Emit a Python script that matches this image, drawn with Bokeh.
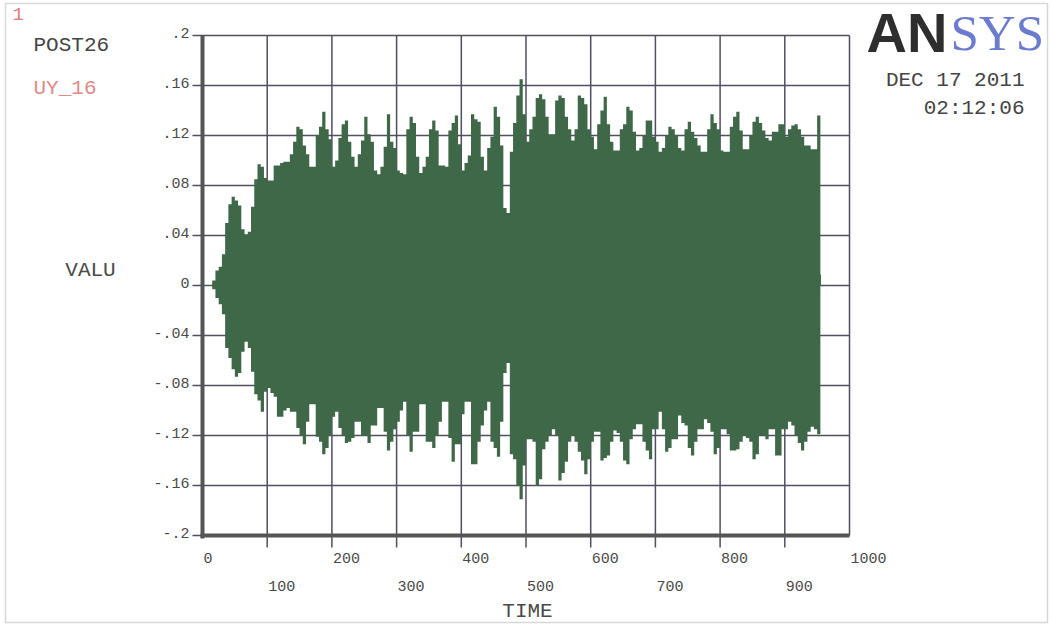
from bokeh.plotting import figure
from bokeh.models import Label, BoxAnnotation
from bokeh.embed import file_html
from bokeh.resources import INLINE

# ---- data ----
time = list(range(0, 955, 5))  # left edges of 5-unit time bins
upper = [
    0.0, 0.0, 0.0, 0.004, 0.012, 0.015, 0.025, 0.050, 0.065, 0.071,
    0.068, 0.064, 0.045, 0.041, 0.043, 0.063, 0.085, 0.097, 0.095, 0.086,
    0.084, 0.084, 0.096, 0.096, 0.098, 0.099, 0.099, 0.105, 0.115, 0.127,
    0.125, 0.112, 0.105, 0.095, 0.095, 0.120, 0.127, 0.139, 0.125, 0.117,
    0.095, 0.100, 0.118, 0.129, 0.132, 0.115, 0.103, 0.095, 0.105, 0.116,
    0.135, 0.121, 0.115, 0.092, 0.089, 0.095, 0.111, 0.137, 0.115, 0.110,
    0.092, 0.090, 0.089, 0.125, 0.135, 0.130, 0.103, 0.090, 0.095, 0.103,
    0.125, 0.132, 0.124, 0.096, 0.096, 0.095, 0.124, 0.130, 0.136, 0.113,
    0.092, 0.098, 0.104, 0.137, 0.133, 0.131, 0.103, 0.092, 0.110, 0.119,
    0.143, 0.135, 0.112, 0.062, 0.058, 0.107, 0.130, 0.152, 0.165, 0.137,
    0.115, 0.125, 0.135, 0.150, 0.153, 0.149, 0.135, 0.121, 0.121, 0.148,
    0.152, 0.150, 0.135, 0.125, 0.116, 0.125, 0.152, 0.150, 0.145, 0.125,
    0.119, 0.109, 0.129, 0.140, 0.151, 0.129, 0.115, 0.108, 0.108, 0.125,
    0.129, 0.143, 0.140, 0.123, 0.108, 0.110, 0.120, 0.132, 0.132, 0.119,
    0.115, 0.107, 0.110, 0.120, 0.127, 0.125, 0.120, 0.110, 0.108, 0.125,
    0.131, 0.123, 0.118, 0.112, 0.107, 0.107, 0.125, 0.137, 0.130, 0.125,
    0.108, 0.107, 0.107, 0.127, 0.135, 0.139, 0.124, 0.109, 0.109, 0.120,
    0.131, 0.135, 0.130, 0.124, 0.118, 0.116, 0.123, 0.123, 0.129, 0.129,
    0.119, 0.125, 0.128, 0.129, 0.125, 0.119, 0.112, 0.112, 0.109, 0.109,
    0.136,
]
lower = [
    0.0, 0.0, 0.0, -0.003, -0.010, -0.015, -0.023, -0.050, -0.058, -0.067,
    -0.073, -0.070, -0.053, -0.045, -0.050, -0.069, -0.087, -0.092, -0.101, -0.085,
    -0.082, -0.086, -0.089, -0.105, -0.105, -0.100, -0.098, -0.101, -0.101, -0.114,
    -0.120, -0.127, -0.109, -0.095, -0.095, -0.121, -0.125, -0.135, -0.130, -0.120,
    -0.105, -0.101, -0.114, -0.120, -0.126, -0.125, -0.122, -0.109, -0.109, -0.120,
    -0.120, -0.126, -0.112, -0.112, -0.098, -0.098, -0.117, -0.132, -0.125, -0.115,
    -0.109, -0.100, -0.093, -0.120, -0.133, -0.117, -0.117, -0.095, -0.095, -0.125,
    -0.125, -0.130, -0.120, -0.109, -0.093, -0.093, -0.122, -0.141, -0.127, -0.127,
    -0.103, -0.093, -0.093, -0.143, -0.143, -0.125, -0.112, -0.100, -0.093, -0.125,
    -0.130, -0.137, -0.109, -0.070, -0.062, -0.135, -0.139, -0.160, -0.171, -0.144,
    -0.123, -0.123, -0.125, -0.160, -0.155, -0.131, -0.125, -0.120, -0.115, -0.120,
    -0.156, -0.150, -0.141, -0.125, -0.120, -0.125, -0.133, -0.140, -0.151, -0.139,
    -0.125, -0.117, -0.117, -0.140, -0.138, -0.136, -0.125, -0.116, -0.118, -0.125,
    -0.140, -0.143, -0.123, -0.115, -0.111, -0.111, -0.125, -0.132, -0.139, -0.115,
    -0.115, -0.101, -0.115, -0.133, -0.130, -0.123, -0.123, -0.104, -0.110, -0.112,
    -0.130, -0.136, -0.125, -0.115, -0.115, -0.107, -0.110, -0.117, -0.135, -0.130,
    -0.115, -0.115, -0.119, -0.132, -0.132, -0.131, -0.125, -0.120, -0.122, -0.125,
    -0.139, -0.135, -0.120, -0.120, -0.123, -0.115, -0.115, -0.136, -0.136, -0.115,
    -0.115, -0.109, -0.112, -0.120, -0.126, -0.132, -0.125, -0.117, -0.113, -0.115,
    -0.119,
]
bin_width = 5
x_ticks = [0, 100, 200, 300, 400, 500, 600, 700, 800, 900, 1000]
x_tick_labels = ["0", "100", "200", "300", "400", "500", "600", "700", "800", "900", "1000"]
y_ticks = [-0.2, -0.16, -0.12, -0.08, -0.04, 0.0, 0.04, 0.08, 0.12, 0.16, 0.2]
y_tick_labels = ["-.2", "-.16", "-.12", "-.08", "-.04", "0", ".04", ".08", ".12", ".16", ".2"]

# ---- layout: the frame covers the whole canvas; plot box is px 202..849 x 35..535 ----
W, H = 1052, 627
FL, FR, FT, FB = 202, 849, 35, 535
XMIN, XMAX = x_ticks[0], x_ticks[-1]
YMIN, YMAX = y_ticks[0], y_ticks[-1]


def X(px):
    return XMIN + (px - FL) / (FR - FL) * (XMAX - XMIN)


def Y(py):
    return YMAX - (py - FT) / (FB - FT) * (YMAX - YMIN)


MONO = "Liberation Mono"
GRID = "#4f4f62"
AXIS = "#555555"
GREEN = "#3f6848"
TXT = "#4a4a4a"

p = figure(width=W, height=H, x_range=(X(0), X(W)), y_range=(Y(H), Y(0)),
           output_backend="svg", toolbar_location=None,
           min_border=0, min_border_left=0, min_border_right=0,
           min_border_top=0, min_border_bottom=0)
p.axis.visible = False
p.grid.visible = False
p.background_fill_color = "white"
p.border_fill_color = "white"
p.outline_line_color = None

# grid lines; the horizontal ones extend left of the axis as y ticks,
# the inner vertical ones extend below the axis as x ticks
ny = len(y_ticks)
p.segment(x0=[X(192)] * ny, x1=[XMAX] * ny, y0=y_ticks, y1=y_ticks,
          line_color=GRID, line_width=1.5)
inner = x_ticks[1:-1]
p.segment(x0=inner, x1=inner, y0=[Y(547)] * len(inner), y1=[YMAX] * len(inner),
          line_color=GRID, line_width=1.5)
p.segment(x0=[XMAX], x1=[XMAX], y0=[YMIN], y1=[YMAX], line_color=GRID, line_width=1.5)

# the signal envelope
xs = time + [time[-1] + bin_width]
p.varea_step(x=xs, y1=lower + [lower[-1]], y2=upper + [upper[-1]],
             step_mode="after", fill_color=GREEN)
p.step(x=xs, y=[0.5 * (a + b) for a, b in zip(upper, lower)] + [0.0],
       mode="after", line_color=GREEN, line_width=1.2)

# thick axis lines
p.segment(x0=[XMIN], x1=[XMIN], y0=[Y(538)], y1=[YMAX], line_color=AXIS, line_width=4)
p.segment(x0=[X(200)], x1=[XMAX], y0=[YMIN], y1=[YMIN], line_color=AXIS, line_width=4)

# tick labels
for v, s in zip(y_ticks, y_tick_labels):
    p.add_layout(Label(x=XMIN, y=v, text=s, x_offset=-13, y_offset=3,
                       text_align="right", text_baseline="middle",
                       text_font=MONO, text_font_size="15px", text_color=TXT))
for i, (t, s) in enumerate(zip(x_ticks, x_tick_labels)):
    row_y = Y(557) if i % 2 == 0 else Y(585)
    p.add_layout(Label(x=t, y=row_y, text=s, x_offset=1, text_align="left", text_baseline="middle",
                       text_font=MONO, text_font_size="15px", text_color=TXT))

# axis titles
p.add_layout(Label(x=X(90), y=Y(270), text="VALU", text_align="center", text_baseline="middle",
                   text_font=MONO, text_font_size="21px", text_color=TXT))
p.add_layout(Label(x=X(527), y=Y(611), text="TIME", text_align="center", text_baseline="middle",
                   text_font=MONO, text_font_size="21px", text_color=TXT))

# header texts
p.add_layout(Label(x=X(12), y=Y(13), text="1", text_align="left", text_baseline="middle",
                   text_font=MONO, text_font_size="19px", text_color="#e07a78"))
p.add_layout(Label(x=X(33), y=Y(45), text="POST26", text_align="left", text_baseline="middle",
                   text_font=MONO, text_font_size="21px", text_color="#444444"))
p.add_layout(Label(x=X(33), y=Y(88), text="UY_16", text_align="left", text_baseline="middle",
                   text_font=MONO, text_font_size="21px", text_color="#e08a88"))
p.add_layout(Label(x=X(1024), y=Y(80), text="DEC 17 2011", text_align="right", text_baseline="middle",
                   text_font=MONO, text_font_size="21px", text_color="#444444"))
p.add_layout(Label(x=X(1024), y=Y(108), text="02:12:06", text_align="right", text_baseline="middle",
                   text_font=MONO, text_font_size="21px", text_color="#444444"))

# logo
p.add_layout(Label(x=X(866), y=Y(32), text="AN", text_align="left", text_baseline="middle",
                   text_font="Liberation Sans", text_font_style="bold", text_font_size="56px",
                   text_color="#2e2e2e"))
p.add_layout(Label(x=X(950), y=Y(32), text="SYS", text_align="left", text_baseline="middle",
                   text_font="Liberation Serif", text_font_size="51px", text_color="#6a7bd0"))

# outer border
p.add_layout(BoxAnnotation(left=X(5), right=X(1047), top=Y(3), bottom=Y(622),
                           fill_alpha=0, line_color="#7a7a7a", line_width=1.5))

open("out.html", "w").write(file_html(p, INLINE))
